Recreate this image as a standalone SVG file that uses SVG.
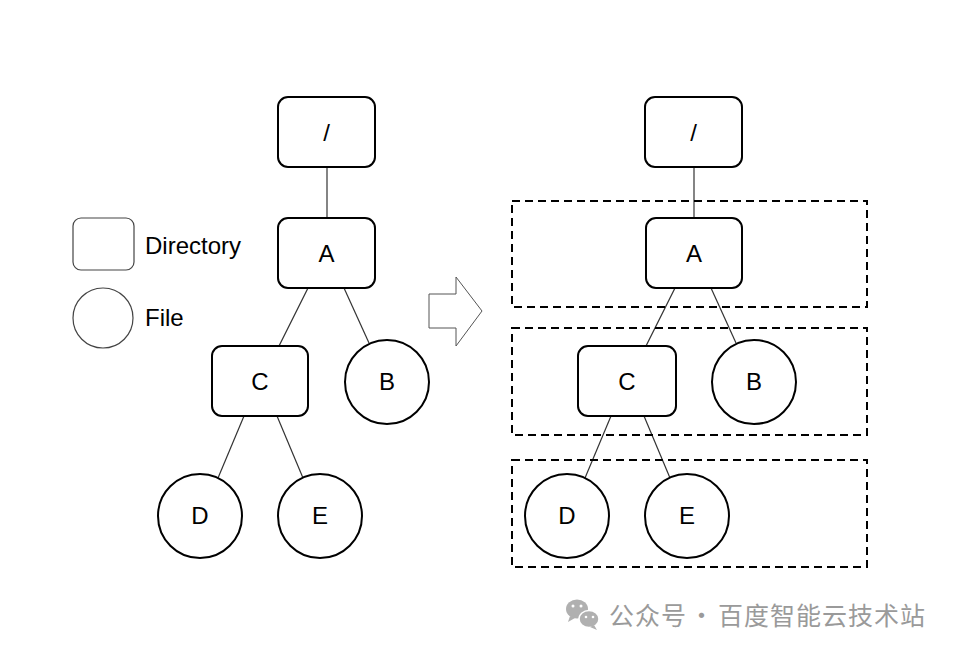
<svg xmlns="http://www.w3.org/2000/svg" width="960" height="655" viewBox="0 0 960 655">
<style>
.dir{fill:#fff;stroke:#000;stroke-width:2}
.file{fill:#fff;stroke:#000;stroke-width:2}
.lbl{font-family:"Liberation Sans",Arial,sans-serif;font-size:24px;fill:#000;text-anchor:middle}
.leg{font-family:"Liberation Sans",Arial,sans-serif;font-size:24px;fill:#000}
.edge{stroke:#333;stroke-width:1.2;fill:none}
.grp{fill:none;stroke:#000;stroke-width:2;stroke-dasharray:8 5}
.wm{font-family:"Noto Sans CJK SC","Noto Sans",sans-serif;font-size:25px;fill:#9a9a9a;letter-spacing:1px}
</style>
<rect width="960" height="655" fill="#fff"/>
<g id="legend">
  <rect x="73" y="218" width="61" height="52" rx="8" fill="#fff" stroke="#444" stroke-width="1.2"/>
  <text class="leg" x="145" y="254">Directory</text>
  <circle cx="103" cy="318" r="30" fill="#fff" stroke="#444" stroke-width="1.2"/>
  <text class="leg" x="145" y="326">File</text>
</g>
<g id="connectors">
  <line class="edge" x1="327" y1="167" x2="327" y2="218"/>
  <line class="edge" x1="308" y1="288" x2="279" y2="346"/>
  <line class="edge" x1="344" y1="288" x2="369" y2="343"/>
  <line class="edge" x1="244" y1="416" x2="218" y2="478"/>
  <line class="edge" x1="277" y1="416" x2="303" y2="478"/>
  <line class="edge" x1="694" y1="167" x2="694" y2="218"/>
  <line class="edge" x1="675" y1="288" x2="646" y2="346"/>
  <line class="edge" x1="711" y1="288" x2="736" y2="343"/>
  <line class="edge" x1="611" y1="416" x2="585" y2="478"/>
  <line class="edge" x1="644" y1="416" x2="670" y2="478"/>
</g>
<g id="L-root"><rect class="dir" x="278" y="97" width="97" height="70" rx="10"/><text class="lbl" x="326.5" y="141">/</text></g>
<g id="L-A"><rect class="dir" x="278" y="218" width="97" height="70" rx="10"/><text class="lbl" x="326.5" y="262">A</text></g>
<g id="L-C"><rect class="dir" x="212" y="346" width="96" height="70" rx="10"/><text class="lbl" x="260" y="390">C</text></g>
<g id="L-B"><circle class="file" cx="387" cy="382" r="42"/><text class="lbl" x="387" y="390">B</text></g>
<g id="L-D"><circle class="file" cx="200" cy="516" r="42"/><text class="lbl" x="200" y="524">D</text></g>
<g id="L-E"><circle class="file" cx="320" cy="516" r="42"/><text class="lbl" x="320" y="524">E</text></g>
<g id="arrow"><path d="M429,294 L456,294 L456,277 L482,311 L456,346 L456,328 L429,328 Z" fill="#fff" stroke="#555" stroke-width="1"/></g>
<g id="groups">
  <rect class="grp" x="512" y="201" width="355" height="106"/>
  <rect class="grp" x="512" y="328" width="355" height="107"/>
  <rect class="grp" x="512" y="460" width="355" height="107"/>
</g>
<g id="R-root"><rect class="dir" x="645" y="97" width="97" height="70" rx="10"/><text class="lbl" x="693.5" y="141">/</text></g>
<g id="R-A"><rect class="dir" x="646" y="218" width="96" height="70" rx="10"/><text class="lbl" x="694" y="262">A</text></g>
<g id="R-C"><rect class="dir" x="578" y="346" width="98" height="70" rx="10"/><text class="lbl" x="627" y="390">C</text></g>
<g id="R-B"><circle class="file" cx="754" cy="382" r="42"/><text class="lbl" x="754" y="390">B</text></g>
<g id="R-D"><circle class="file" cx="567" cy="516" r="42"/><text class="lbl" x="567" y="524">D</text></g>
<g id="R-E"><circle class="file" cx="687" cy="516" r="42"/><text class="lbl" x="687" y="524">E</text></g>
<g id="watermark">
  <ellipse cx="577" cy="609" rx="11" ry="9.5" fill="#b0b0b0"/>
  <path d="M570,616 L568,622 L575,618 Z" fill="#b0b0b0"/>
  <ellipse cx="589" cy="619" rx="10" ry="8.5" fill="#b0b0b0" stroke="#fff" stroke-width="1.5"/>
  <path d="M594,625 L597,630 L590,627 Z" fill="#b0b0b0"/>
  <circle cx="573" cy="606" r="1.5" fill="#fff"/><circle cx="581" cy="606" r="1.5" fill="#fff"/>
  <circle cx="586" cy="617" r="1.3" fill="#fff"/><circle cx="593" cy="617" r="1.3" fill="#fff"/>
  <text class="wm" x="609" y="625">公众号</text>
  <text class="wm" x="702" y="625" text-anchor="middle">·</text>
  <text class="wm" x="718" y="625">百度智能云技术站</text>
</g>
</svg>
